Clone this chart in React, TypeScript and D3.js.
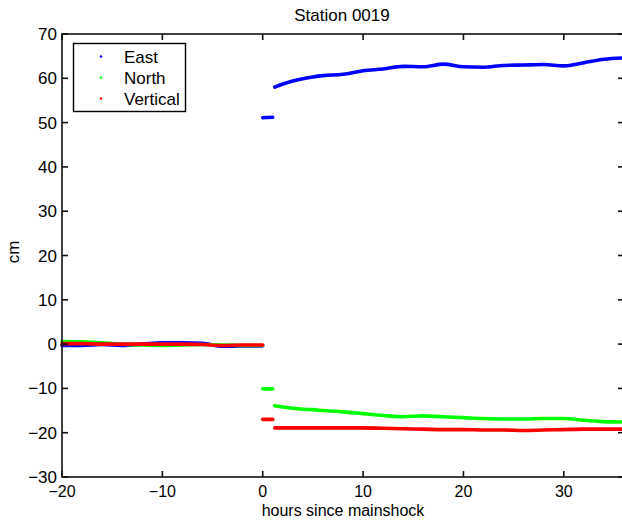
import React, { useRef, useEffect } from 'react';
import * as d3 from 'd3';

// hours since mainshock
const preHours = [-20, -18, -16, -14, -12, -10, -8, -6, -4, -2, 0];
const jumpHours = [0, 1.0];
const postHours = [1.2, 2, 3, 4, 5, 6, 8, 10, 12, 14, 16, 18, 20, 22, 24, 26, 28, 30, 32, 34, 36];

const eastPre = [-0.3, -0.3, -0.1, -0.3, 0.0, 0.3, 0.3, 0.2, -0.5, -0.4, -0.4];
const northPre = [0.6, 0.5, 0.3, 0.0, -0.2, -0.3, -0.2, -0.1, -0.2, -0.3, -0.3];
const vertPre = [0.1, 0.1, 0.0, 0.0, 0.0, 0.0, 0.0, -0.1, -0.3, -0.2, -0.2];

const eastJump = [51.1, 51.2];
const northJump = [-10.1, -10.1];
const vertJump = [-17.0, -17.0];

const eastPost = [58.0, 58.7, 59.4, 59.9, 60.3, 60.6, 60.9, 61.7, 62.1, 62.7, 62.6, 63.2, 62.6, 62.5, 62.9, 63.0, 63.1, 62.8, 63.5, 64.3, 64.6];
const northPost = [-13.9, -14.2, -14.5, -14.7, -14.8, -15.0, -15.3, -15.7, -16.1, -16.4, -16.2, -16.4, -16.6, -16.8, -16.9, -16.9, -16.8, -16.8, -17.2, -17.5, -17.6];
const vertPost = [-18.9, -18.9, -18.9, -18.9, -18.9, -18.9, -18.9, -18.9, -19.0, -19.1, -19.2, -19.3, -19.3, -19.4, -19.4, -19.5, -19.4, -19.3, -19.2, -19.2, -19.2];

const xTicks = [-20, -10, 0, 10, 20, 30];
const yTicks = [-30, -20, -10, 0, 10, 20, 30, 40, 50, 60, 70];

const seriesNames = ['East', 'North', 'Vertical'];
const seriesColors = ['#0000ff', '#00ff00', '#ff0000'];

const App = () => {
  const svgRef = useRef<SVGSVGElement>(null);

  useEffect(() => {
    const svg = d3.select(svgRef.current);
    svg.selectAll('*').remove();

    const margin = { left: 62, top: 34, right: 624, bottom: 477 };
    const font = 'Liberation Sans, Arial, Helvetica, sans-serif';
    const fs = '17px';

    const x = d3.scaleLinear().domain([-20, 36]).range([margin.left, margin.right]);
    const y = d3.scaleLinear().domain([-30, 70]).range([margin.bottom, margin.top]);

    svg.append('rect').attr('width', 622).attr('height', 524).attr('fill', 'white');

    const line = d3.line<[number, number]>()
      .x(d => x(d[0]))
      .y(d => y(d[1]))
      .curve(d3.curveMonotoneX);

    const series = [
      [eastPre, eastJump, eastPost],
      [northPre, northJump, northPost],
      [vertPre, vertJump, vertPost]
    ];
    const hourSets = [preHours, jumpHours, postHours];

    series.forEach((segs, si) => {
      segs.forEach((vals, k) => {
        const pts = hourSets[k].map((h, i) => [h, vals[i]] as [number, number]);
        svg.append('path')
          .attr('d', line(pts))
          .attr('fill', 'none')
          .attr('stroke', seriesColors[si])
          .attr('stroke-width', 3.6)
          .attr('stroke-linecap', 'round');
      });
    });

    // axes box
    const ax = svg.append('g').attr('stroke', '#111').attr('stroke-width', 1.6).attr('fill', 'none');
    ax.append('rect')
      .attr('x', margin.left)
      .attr('y', margin.top)
      .attr('width', margin.right - margin.left)
      .attr('height', margin.bottom - margin.top);

    xTicks.forEach(t => {
      ax.append('line').attr('x1', x(t)).attr('x2', x(t)).attr('y1', margin.bottom).attr('y2', margin.bottom - 6);
      ax.append('line').attr('x1', x(t)).attr('x2', x(t)).attr('y1', margin.top).attr('y2', margin.top + 6);
    });
    yTicks.forEach(t => {
      ax.append('line').attr('x1', margin.left).attr('x2', margin.left + 6).attr('y1', y(t)).attr('y2', y(t));
      ax.append('line').attr('x1', margin.right).attr('x2', margin.right - 6).attr('y1', y(t)).attr('y2', y(t));
    });

    const fmt = (v: number) => (v < 0 ? '\u2212' + Math.abs(v) : String(v));

    svg.append('g').selectAll('text').data(xTicks).enter().append('text')
      .attr('x', d => x(d))
      .attr('y', 497)
      .attr('text-anchor', 'middle')
      .style('font-family', font)
      .style('font-size', '16px')
      .text(d => fmt(d));

    svg.append('g').selectAll('text').data(yTicks).enter().append('text')
      .attr('x', 57)
      .attr('y', d => y(d) + 6)
      .attr('text-anchor', 'end')
      .style('font-family', font)
      .style('font-size', fs)
      .text(d => fmt(d));

    svg.append('text')
      .attr('x', 342)
      .attr('y', 21)
      .attr('text-anchor', 'middle')
      .style('font-family', font)
      .style('font-size', fs)
      .text('Station 0019');

    svg.append('text')
      .attr('x', 343)
      .attr('y', 515.5)
      .attr('text-anchor', 'middle')
      .style('font-family', font)
      .style('font-size', '16px')
      .text('hours since mainshock');

    svg.append('text')
      .attr('transform', 'translate(18.5, 252) rotate(-90)')
      .attr('text-anchor', 'middle')
      .style('font-family', font)
      .style('font-size', fs)
      .text('cm');

    // legend
    const legend = svg.append('g');
    legend.append('rect')
      .attr('x', 73.5)
      .attr('y', 43.5)
      .attr('width', 112)
      .attr('height', 68)
      .attr('fill', 'white')
      .attr('stroke', '#000')
      .attr('stroke-width', 1.4);

    seriesNames.forEach((name, i) => {
      const cy = 56.5 + i * 21;
      legend.append('circle').attr('cx', 101).attr('cy', cy).attr('r', 1.2).attr('fill', seriesColors[i]);
      legend.append('text')
        .attr('x', 124)
        .attr('y', cy + 6.5)
        .style('font-family', font)
        .style('font-size', fs)
        .text(name);
    });
  }, []);

  return (
    <svg
      ref={svgRef}
      width={622}
      height={524}
      style={{ position: 'absolute', left: 0, top: 0, display: 'block' }}
    />
  );
};

export default App;
